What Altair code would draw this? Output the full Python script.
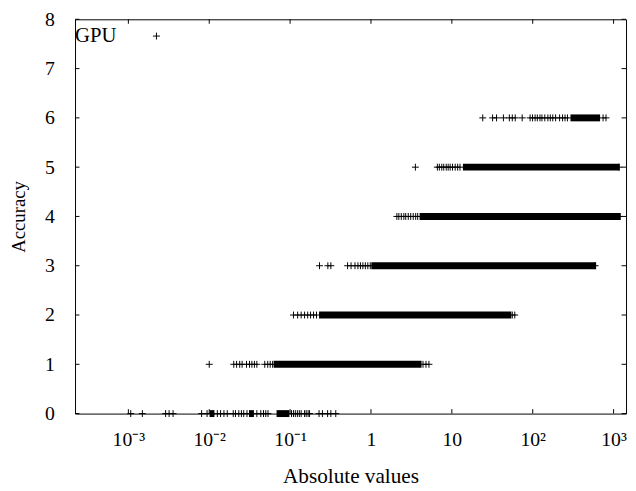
import altair as alt
import pandas as pd

# ---- data ----
# individual (sparse) points, x = absolute value, one list per accuracy level
acc0 = [1.07e-3, 1.49e-3, 2.89e-3, 3.19e-3, 3.57e-3, 8.05e-3, 9.4e-3,
        1.26e-2, 1.38e-2, 1.52e-2, 1.67e-2, 1.98e-2, 2.11e-2, 2.32e-2, 2.50e-2,
        2.67e-2, 2.93e-2, 3.88e-2, 4.34e-2, 4.69e-2, 5.0e-2, 5.33e-2,
        0.104, 0.110, 0.116, 0.123, 0.130, 0.137, 0.151, 0.158, 0.167, 0.174,
        0.228, 0.251, 0.291, 0.319, 0.367]
acc1 = [0.0100, 0.0201, 0.0218, 0.0238, 0.0255, 0.0289, 0.0315, 0.0337, 0.0362,
        0.0388, 0.0486, 0.0529, 0.0567, 0.0608, 4.40, 4.79, 5.21]
acc2 = [0.110, 0.124, 0.137, 0.151, 0.165, 0.179, 0.195, 0.212, 55.9, 60.0]
acc3 = [0.231, 0.293, 0.319, 0.514, 0.567, 0.634, 0.690, 0.741, 0.794, 0.852,
        0.914, 0.980, 591]
acc4 = [2.09, 2.21, 2.37, 2.55, 2.69, 2.89, 3.10, 3.33, 3.57, 3.78, 1161]
acc5 = [3.54, 6.62, 7.00, 7.51, 7.94, 8.52, 9.01, 9.53, 10.2, 11.0, 11.8, 12.6, 1161]
acc6 = [24.1, 31.9, 35.7, 43.4, 51.4, 55.9, 60.8, 74.1, 92.8, 99.5, 107, 114,
        123, 130, 141, 154, 165, 177, 192, 215, 234, 251, 269, 741, 806]

# ranges so densely filled with points that they appear solid
dense_acc = [0, 0, 0, 1, 2, 3, 4, 5, 6]
dense_lo = [1.01e-2, 3.10e-2, 6.8e-2, 0.0626, 0.228, 1.01, 3.99, 13.7, 293]
dense_hi = [1.16e-2, 3.57e-2, 9.8e-2, 4.22, 54.4, 608, 1227, 1194, 681]

series_name = "GPU"
x_ticks = [0.001, 0.01, 0.1, 1, 10, 100, 1000]
y_ticks = [0, 1, 2, 3, 4, 5, 6, 7, 8]
x_domain = [2.19e-4, 1425]
y_domain = [0, 8]

# ---- tables ----
rows = []
for acc, xs in enumerate([acc0, acc1, acc2, acc3, acc4, acc5, acc6]):
    rows += [{"value": v, "accuracy": acc} for v in xs]
points = pd.DataFrame(rows)
dense = pd.DataFrame({"value": dense_lo, "value2": dense_hi, "accuracy": dense_acc})
xt = pd.DataFrame({"value": x_ticks})
yt = pd.DataFrame({"accuracy": y_ticks})
key = pd.DataFrame({"series": [series_name]})

FONT = "Liberation Serif"
PLUS = "M-1,0H1M0,-1V1"
W, H = 559, 400

xscale = alt.Scale(type="log", domain=x_domain, nice=False)
yscale = alt.Scale(domain=y_domain, nice=False, zero=False)

label_expr = ("datum.value == 1 ? '1' : datum.value == 10 ? '10' : "
              "datum.value == 100 ? '10²' : datum.value == 1000 ? '10³' : "
              "datum.value == 0.1 ? '10⁻¹' : datum.value == 0.01 ? '10⁻²' : '10⁻³'")

pts = alt.Chart(points).mark_point(
    shape=PLUS, filled=False, size=49, strokeWidth=1, opacity=1, color="black"
).encode(
    x=alt.X("value:Q", scale=xscale,
            axis=alt.Axis(values=x_ticks, labelExpr=label_expr, ticks=False,
                          domain=False, grid=False, title="Absolute values",
                          labelBaseline="alphabetic", labelPadding=32,
                          titleFontSize=21.5,
                          titleBaseline="alphabetic", titleY=70)),
    y=alt.Y("accuracy:Q", scale=yscale,
            axis=alt.Axis(values=y_ticks, ticks=False, domain=False, grid=False,
                          title="Accuracy", labelPadding=21, titleFontSize=19,
                          titleBaseline="alphabetic", titleX=-51, titleY=H / 2)),
)

bars = alt.Chart(dense).mark_rule(strokeWidth=7, color="black", strokeCap="butt").encode(
    x=alt.X("value:Q", scale=xscale),
    x2="value2:Q",
    y=alt.Y("accuracy:Q", scale=yscale),
)

# key (legend) in the top-left corner: label then sample symbol
key_text = alt.Chart(key).mark_text(
    font=FONT, fontSize=21, align="left", baseline="middle", color="black"
).encode(text="series:N", x=alt.value(0), y=alt.value(17))
key_sym = alt.Chart(key).mark_point(
    shape=PLUS, filled=False, size=49, strokeWidth=1, opacity=1, color="black"
).encode(x=alt.value(82.6), y=alt.value(17))

tick_len = 4.5
bot = alt.Chart(xt).mark_rule(color="black").encode(
    x=alt.X("value:Q", scale=xscale), y=alt.value(H), y2=alt.value(H - tick_len))
top = alt.Chart(xt).mark_rule(color="black").encode(
    x=alt.X("value:Q", scale=xscale), y=alt.value(0), y2=alt.value(tick_len))
left = alt.Chart(yt).mark_rule(color="black").encode(
    y=alt.Y("accuracy:Q", scale=yscale), x=alt.value(0), x2=alt.value(tick_len))
right = alt.Chart(yt).mark_rule(color="black").encode(
    y=alt.Y("accuracy:Q", scale=yscale), x=alt.value(W), x2=alt.value(W - tick_len))

chart = alt.layer(bars, pts, bot, top, left, right, key_text, key_sym).properties(
    width=W, height=H,
    autosize=alt.AutoSizeParams(type="none"),
    padding={"left": 68, "top": 8, "right": 2, "bottom": 71},
    background="white",
).configure_view(
    stroke="black", strokeWidth=1
).configure_axis(
    labelFont=FONT, labelFontSize=20, labelColor="black",
    titleFont=FONT, titleFontSize=20, titleColor="black", titleFontWeight="normal",
)

chart.save("out.html", embed_options={"renderer": "svg", "actions": False})
